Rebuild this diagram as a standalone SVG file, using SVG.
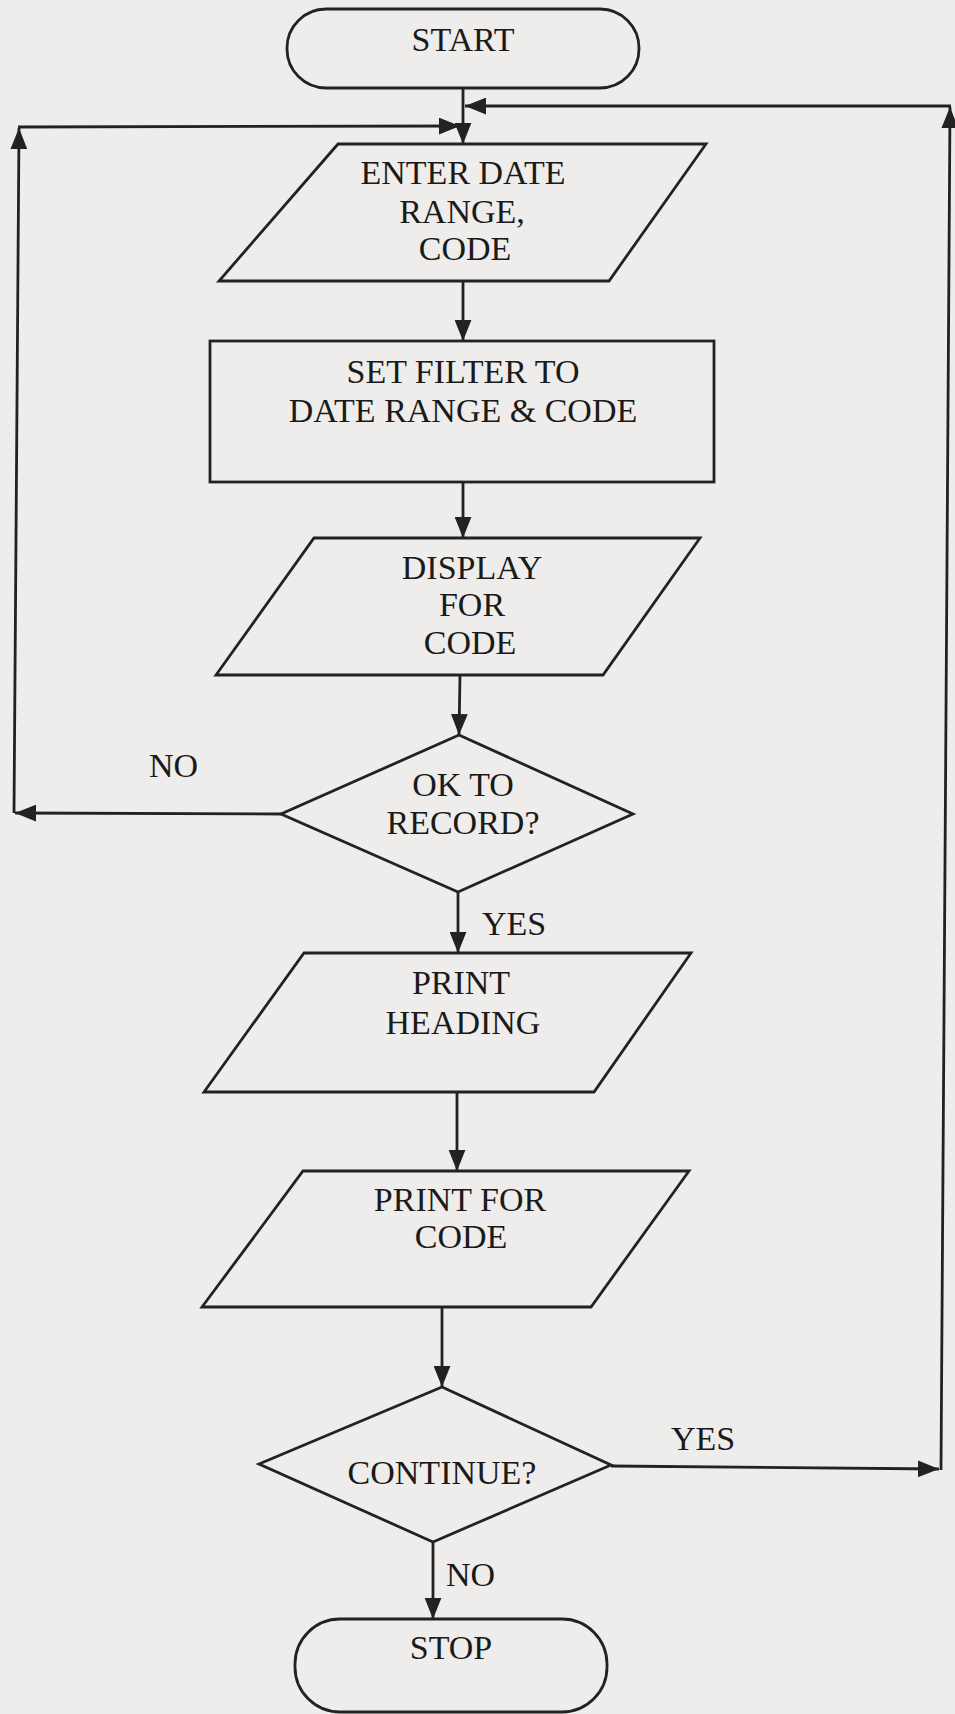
<svg xmlns="http://www.w3.org/2000/svg" width="955" height="1714" viewBox="0 0 955 1714">
<defs>
<style>
.shape{fill:none;stroke:#222;stroke-width:2.8;stroke-linejoin:miter}
.conn{fill:none;stroke:#222;stroke-width:2.8}
.t{font-family:"Liberation Serif","Times New Roman",serif;font-size:34px;fill:#1a1a1a;text-anchor:middle}
.l{font-family:"Liberation Serif","Times New Roman",serif;font-size:34px;fill:#1a1a1a}
</style>
<marker id="ah" viewBox="0 0 20 16" refX="20" refY="8" markerWidth="21" markerHeight="17" markerUnits="userSpaceOnUse" orient="auto">
<path d="M0,0 L20,8 L0,16 Z" fill="#222"/>
</marker>
</defs>
<rect x="0" y="0" width="955" height="1714" fill="#eeedeb"/>

<g id="connectors">
<line class="conn" x1="463" y1="88" x2="463" y2="144" marker-end="url(#ah)"/>
<line class="conn" x1="463" y1="281" x2="463" y2="341" marker-end="url(#ah)"/>
<line class="conn" x1="463" y1="482" x2="463" y2="538" marker-end="url(#ah)"/>
<line class="conn" x1="460" y1="675" x2="459" y2="735" marker-end="url(#ah)"/>
<line class="conn" x1="458" y1="892" x2="458" y2="953" marker-end="url(#ah)"/>
<line class="conn" x1="457" y1="1092" x2="457" y2="1171" marker-end="url(#ah)"/>
<line class="conn" x1="442" y1="1307" x2="442" y2="1387" marker-end="url(#ah)"/>
<line class="conn" x1="433" y1="1542" x2="433" y2="1619" marker-end="url(#ah)"/>
<!-- NO loop -->
<line class="conn" x1="281" y1="814" x2="15" y2="813" marker-end="url(#ah)"/>
<line class="conn" x1="14" y1="813" x2="19" y2="128" marker-end="url(#ah)"/>
<line class="conn" x1="18" y1="127" x2="460" y2="126" marker-end="url(#ah)"/>
<!-- YES loop -->
<line class="conn" x1="611" y1="1466" x2="939" y2="1469" marker-end="url(#ah)"/>
<line class="conn" x1="941" y1="1470" x2="950" y2="107" marker-end="url(#ah)"/>
<line class="conn" x1="951" y1="106" x2="465" y2="106" marker-end="url(#ah)"/>
<text class="l" x="149" y="777">NO</text>
<text class="l" x="482" y="935">YES</text>
<text class="l" x="671" y="1450">YES</text>
<text class="l" x="446" y="1586">NO</text>
</g>

<g id="start">
<rect class="shape" x="287" y="9" width="352" height="79" rx="39" ry="39"/>
<text class="t" x="463" y="51">START</text>
</g>

<g id="enter">
<polygon class="shape" points="338,144 706,144 609,281 219,281"/>
<text class="t" x="463" y="184">ENTER DATE</text>
<text class="t" x="462" y="223">RANGE,</text>
<text class="t" x="465" y="260">CODE</text>
</g>

<g id="setfilter">
<rect class="shape" x="210" y="341" width="504" height="141"/>
<text class="t" x="463" y="383">SET FILTER TO</text>
<text class="t" x="463" y="422">DATE RANGE &amp; CODE</text>
</g>

<g id="display">
<polygon class="shape" points="314,538 700,538 603,675 216,675"/>
<text class="t" x="472" y="579">DISPLAY</text>
<text class="t" x="472" y="616">FOR</text>
<text class="t" x="470" y="654">CODE</text>
</g>

<g id="okrecord">
<polygon class="shape" points="459,735 633,814 458,892 281,814"/>
<text class="t" x="463" y="796">OK TO</text>
<text class="t" x="463" y="834">RECORD?</text>
</g>

<g id="printheading">
<polygon class="shape" points="304,953 691,953 594,1092 204,1092"/>
<text class="t" x="461" y="994">PRINT</text>
<text class="t" x="463" y="1034">HEADING</text>
</g>

<g id="printfor">
<polygon class="shape" points="303,1171 689,1171 591,1307 202,1307"/>
<text class="t" x="460" y="1211">PRINT FOR</text>
<text class="t" x="461" y="1248">CODE</text>
</g>

<g id="continue">
<polygon class="shape" points="442,1387 611,1465 433,1542 259,1464"/>
<text class="t" x="442" y="1484">CONTINUE?</text>
</g>

<g id="stop">
<rect class="shape" x="295" y="1619" width="312" height="93" rx="45" ry="45"/>
<text class="t" x="451" y="1659">STOP</text>
</g>
</svg>
